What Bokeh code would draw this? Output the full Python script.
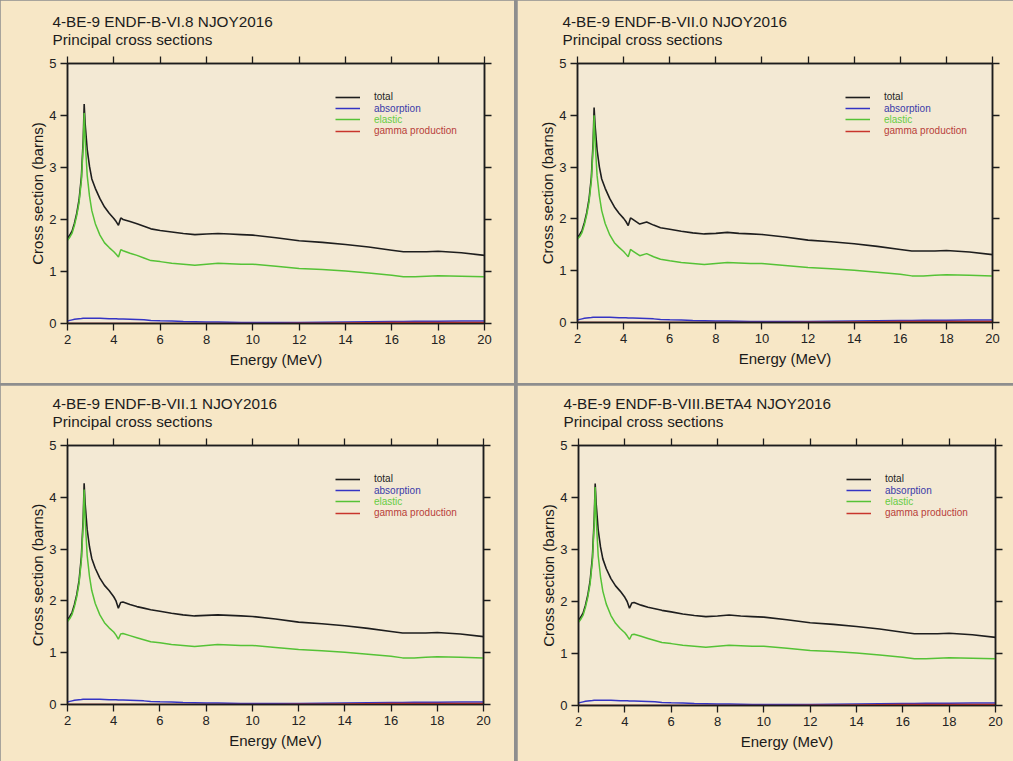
from bokeh.plotting import figure
from bokeh.models import (LinearAxis, FixedTicker, Title, Legend, LegendItem, Range1d,
                          CustomLabelingPolicy)
from bokeh.layouts import row, column
from bokeh.embed import file_html
from bokeh.resources import INLINE

FONT = "Liberation Sans"
BG_OUT = "#F7E7C6"
BG_IN = "#F3E9D4"
INK = "#1c1c1c"

# ---------------- data ----------------
energy = [2.0, 2.1, 2.2, 2.3, 2.4, 2.5, 2.6, 2.68, 2.72, 2.76, 2.85, 2.95, 3.05, 3.2, 3.4,
          3.6, 3.8, 4.0, 4.1, 4.2, 4.3, 4.4, 4.7, 5.0, 5.3, 5.6, 6.0, 6.5, 7.0, 7.5,
          8.0, 8.5, 9.0, 9.5, 10.0, 11.0, 12.0, 13.0, 14.0, 15.0, 16.0, 16.5, 17.0, 17.5,
          18.0, 19.0, 20.0]

total_vi8 = [1.64, 1.70, 1.78, 1.93, 2.12, 2.38, 2.82, 3.55, 4.22, 3.85, 3.35, 3.02, 2.78, 2.60, 2.40,
             2.24, 2.12, 2.02, 1.96, 1.89, 2.03, 2.00, 1.96, 1.92, 1.87, 1.82, 1.79, 1.76, 1.73, 1.71,
             1.72, 1.73, 1.72, 1.71, 1.70, 1.65, 1.59, 1.56, 1.52, 1.47, 1.41, 1.38, 1.38, 1.38,
             1.39, 1.36, 1.31]
elastic_vi8 = [1.60, 1.66, 1.74, 1.89, 2.08, 2.33, 2.75, 3.45, 4.05, 3.55, 2.85, 2.45, 2.17, 1.92, 1.70,
               1.55, 1.46, 1.38, 1.33, 1.28, 1.42, 1.40, 1.35, 1.31, 1.26, 1.21, 1.19, 1.16, 1.14, 1.12,
               1.14, 1.16, 1.15, 1.14, 1.14, 1.10, 1.06, 1.04, 1.01, 0.97, 0.93, 0.90, 0.90, 0.91,
               0.92, 0.91, 0.90]

total_vii0 = [1.65, 1.70, 1.78, 1.93, 2.12, 2.38, 2.80, 3.50, 4.15, 3.82, 3.33, 3.00, 2.77, 2.59, 2.39,
              2.23, 2.11, 2.01, 1.95, 1.87, 2.02, 1.99, 1.90, 1.94, 1.88, 1.83, 1.80, 1.76, 1.73, 1.71,
              1.72, 1.74, 1.72, 1.71, 1.70, 1.65, 1.59, 1.56, 1.52, 1.47, 1.41, 1.38, 1.38, 1.38,
              1.39, 1.36, 1.31]
elastic_vii0 = [1.61, 1.66, 1.74, 1.89, 2.08, 2.33, 2.73, 3.40, 4.00, 3.52, 2.83, 2.44, 2.16, 1.91, 1.69,
                1.54, 1.45, 1.37, 1.32, 1.27, 1.41, 1.38, 1.29, 1.33, 1.27, 1.22, 1.19, 1.16, 1.14, 1.12,
                1.14, 1.16, 1.15, 1.14, 1.14, 1.10, 1.06, 1.04, 1.01, 0.97, 0.93, 0.90, 0.90, 0.91,
                0.92, 0.91, 0.90]

total_vii1 = [1.64, 1.70, 1.78, 1.93, 2.12, 2.39, 2.85, 3.60, 4.27, 3.90, 3.38, 3.05, 2.82, 2.63, 2.44,
              2.30, 2.20, 2.08, 2.00, 1.86, 1.97, 1.98, 1.93, 1.89, 1.86, 1.83, 1.80, 1.76, 1.73, 1.71,
              1.72, 1.73, 1.72, 1.71, 1.70, 1.65, 1.59, 1.56, 1.52, 1.47, 1.41, 1.38, 1.38, 1.38,
              1.39, 1.36, 1.31]
elastic_vii1 = [1.60, 1.66, 1.74, 1.89, 2.08, 2.34, 2.78, 3.50, 4.15, 3.60, 2.88, 2.48, 2.20, 1.95, 1.73,
                1.58, 1.48, 1.40, 1.34, 1.26, 1.36, 1.37, 1.33, 1.29, 1.25, 1.21, 1.19, 1.16, 1.14, 1.12,
                1.14, 1.16, 1.15, 1.14, 1.14, 1.10, 1.06, 1.04, 1.01, 0.97, 0.93, 0.90, 0.90, 0.91,
                0.92, 0.91, 0.90]

total_viii = [1.64, 1.70, 1.78, 1.93, 2.12, 2.39, 2.85, 3.60, 4.27, 3.90, 3.38, 3.05, 2.82, 2.63, 2.44,
              2.30, 2.20, 2.08, 2.00, 1.87, 1.97, 1.98, 1.93, 1.89, 1.86, 1.83, 1.80, 1.76, 1.73, 1.71,
              1.72, 1.74, 1.72, 1.71, 1.70, 1.65, 1.59, 1.56, 1.52, 1.47, 1.41, 1.38, 1.38, 1.38,
              1.39, 1.36, 1.31]
elastic_viii = [1.60, 1.66, 1.74, 1.89, 2.08, 2.34, 2.78, 3.52, 4.20, 3.62, 2.88, 2.48, 2.20, 1.95, 1.73,
                1.58, 1.48, 1.40, 1.34, 1.27, 1.36, 1.37, 1.33, 1.29, 1.25, 1.21, 1.19, 1.16, 1.14, 1.12,
                1.14, 1.16, 1.15, 1.14, 1.14, 1.10, 1.06, 1.04, 1.01, 0.97, 0.93, 0.90, 0.90, 0.91,
                0.92, 0.91, 0.90]

absorption = [0.05, 0.06, 0.07, 0.08, 0.085, 0.09, 0.095, 0.10, 0.10, 0.10, 0.10, 0.10, 0.10, 0.10, 0.10,
              0.095, 0.09, 0.09, 0.09, 0.085, 0.085, 0.085, 0.08, 0.075, 0.07, 0.06, 0.055, 0.05, 0.04, 0.035,
              0.03, 0.03, 0.025, 0.02, 0.02, 0.02, 0.02, 0.025, 0.03, 0.035, 0.04, 0.04, 0.045, 0.045,
              0.045, 0.05, 0.05]
gamma = [0.0, 0.0, 0.0, 0.0, 0.0, 0.0, 0.0, 0.0, 0.0, 0.0, 0.0, 0.0, 0.0, 0.0, 0.0,
         0.0, 0.0, 0.0, 0.0, 0.0, 0.0, 0.0, 0.0, 0.0, 0.0, 0.0, 0.0, 0.0, 0.0, 0.0,
         0.0, 0.0, 0.0, 0.0, 0.0, 0.0, 0.003, 0.006, 0.01, 0.014, 0.018, 0.02, 0.02, 0.02,
         0.02, 0.02, 0.02]

x_ticks = [2, 4, 6, 8, 10, 12, 14, 16, 18, 20]
y_ticks = [0, 1, 2, 3, 4, 5]
titles = ["4-BE-9 ENDF-B-VI.8 NJOY2016", "4-BE-9 ENDF-B-VII.0 NJOY2016",
          "4-BE-9 ENDF-B-VII.1 NJOY2016", "4-BE-9 ENDF-B-VIII.BETA4 NJOY2016"]
subtitle = "Principal cross sections"
series_names = ["total", "absorption", "elastic", "gamma production"]
line_colors = ["#1e1e1e", "#3434c4", "#55c236", "#c8352c"]
label_colors = ["#1e1e1e", "#3a3aa8", "#66cc44", "#b8403a"]

NO_LABELS = """
try {
  const all = Array.from(indices)
  for (const i of all) indices.unset(i)
} catch (e) {}
return indices
"""


def style_axis(ax, show_labels):
    ax.axis_line_color = INK
    ax.axis_line_width = 1.5
    ax.major_tick_line_color = INK
    ax.major_tick_line_width = 1.3
    ax.major_tick_out = 7
    ax.major_tick_in = 0
    ax.minor_tick_out = 0
    ax.minor_tick_in = 0
    ax.major_label_text_font = FONT
    ax.major_label_text_color = "#222222"
    if show_labels:
        ax.major_label_standoff = 4
        ax.major_label_text_font_size = "13px"
    else:
        ax.major_label_standoff = 0
        ax.major_label_text_font_size = "1px"
        ax.major_label_policy = CustomLabelingPolicy(code=NO_LABELS)
    ax.axis_label_text_font = FONT
    ax.axis_label_text_font_size = "15px"
    ax.axis_label_text_font_style = "normal"
    ax.axis_label_text_color = "#1a1a1a"
    ax.axis_label_standoff = 4


def make_panel(title, total, elastic, fw, fh, bl, br, bt, bb):
    p = figure(frame_width=fw, frame_height=fh,
               min_border_left=bl, min_border_right=br, min_border_top=bt, min_border_bottom=bb,
               x_range=Range1d(2, 20), y_range=Range1d(0, 5),
               output_backend="svg", toolbar_location=None, title=None,
               background_fill_color=BG_IN, border_fill_color=BG_OUT,
               outline_line_color=INK, outline_line_width=1.5)
    p.grid.visible = False

    p.xaxis.ticker = FixedTicker(ticks=x_ticks)
    p.yaxis.ticker = FixedTicker(ticks=y_ticks)
    p.xaxis.axis_label = "Energy (MeV)"
    p.yaxis.axis_label = "Cross section (barns)"
    for ax in p.xaxis + p.yaxis:
        style_axis(ax, True)
    p.yaxis.axis_label_standoff = 0

    top = LinearAxis(ticker=FixedTicker(ticks=x_ticks))
    right = LinearAxis(ticker=FixedTicker(ticks=y_ticks))
    style_axis(top, False)
    style_axis(right, False)
    p.add_layout(top, "above")
    p.add_layout(right, "right")

    p.add_layout(Title(text=title + "\n" + subtitle, align="left", offset=-15, standoff=9.5,
                       text_font=FONT, text_font_size="15.3px", text_font_style="normal",
                       text_line_height=1.03, text_color=INK), "above")

    r_tot = p.line(energy, total, line_color=line_colors[0], line_width=1.6)
    r_ela = p.line(energy, elastic, line_color=line_colors[2], line_width=1.5)
    r_abs = p.line(energy, absorption, line_color=line_colors[1], line_width=1.5)
    r_gam = p.line(energy, gamma, line_color=line_colors[3], line_width=1.5)
    rends = [r_tot, r_abs, r_ela, r_gam]

    for i, (name, r) in enumerate(zip(series_names, rends)):
        lg = Legend(items=[LegendItem(label=name, renderers=[r])],
                    location=(268, fh - 33.7 - 11.3 * i - 6),
                    orientation="vertical", margin=0, padding=0, spacing=0,
                    glyph_width=25, glyph_height=12, label_height=12, label_standoff=14,
                    label_text_font=FONT, label_text_font_size="10px",
                    label_text_color=label_colors[i],
                    background_fill_alpha=0, border_line_alpha=0)
        p.add_layout(lg)
    return p


p1 = make_panel(titles[0], total_vi8, elastic_vi8, 417, 260, 67, 30, 63, 60)
p2 = make_panel(titles[1], total_vii0, elastic_vii0, 415, 259, 60, 21, 63, 61)
p3 = make_panel(titles[2], total_vii1, elastic_vii1, 416, 259, 67, 31, 60, 57)
p4 = make_panel(titles[3], total_viii, elastic_viii, 417, 260, 61, 18, 60, 56)

layout = column(row(p1, p2, spacing=3), row(p3, p4, spacing=3), spacing=2,
                styles={"background-color": "#8e8e8e"})

open("out.html", "w").write(file_html(layout, INLINE))
